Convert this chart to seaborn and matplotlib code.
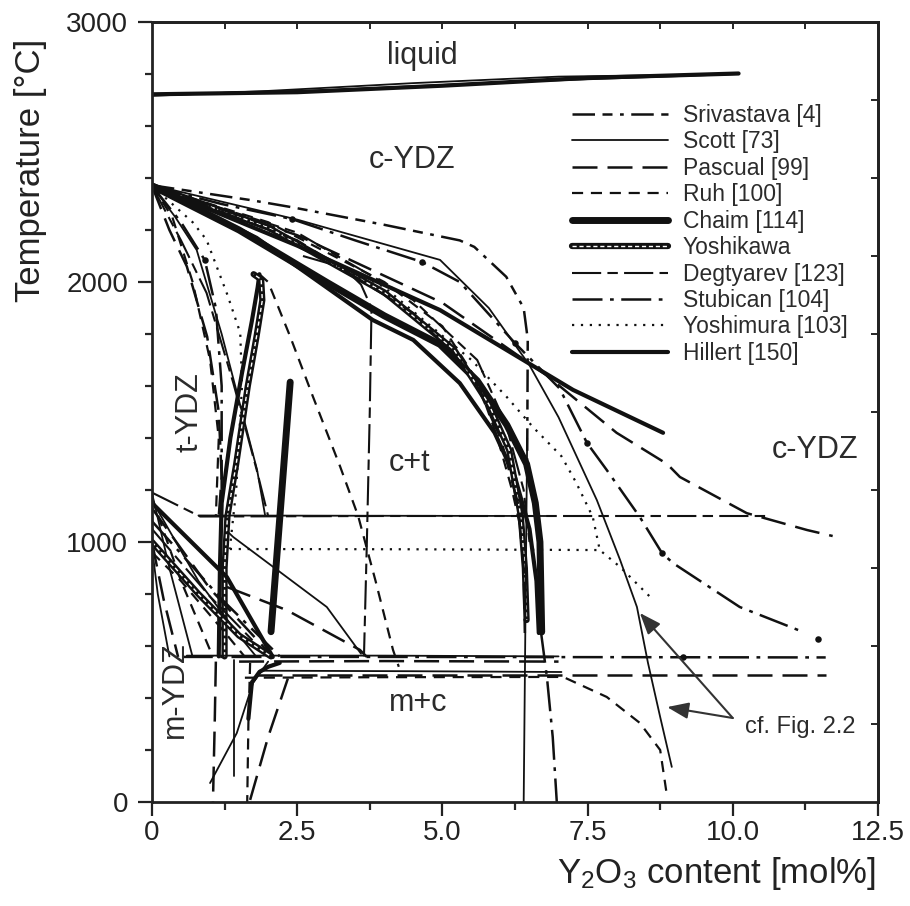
import matplotlib
matplotlib.use("Agg")
import matplotlib.pyplot as plt
from matplotlib.lines import Line2D
from matplotlib.legend_handler import HandlerTuple
import seaborn as sns

# ---- data (x = Y2O3 mol%, y = temperature degC) ----
# liquidus
liq_a_x = [0, 3.0, 6.0, 10.1]; liq_a_y = [2720, 2738, 2768, 2800]
liq_b_x = [0, 2.5, 5.0, 7.5, 10.1]; liq_b_y = [2722, 2730, 2755, 2785, 2802]
liq_c_x = [0, 2.0, 4.5, 7.0, 9.5]; liq_c_y = [2716, 2735, 2765, 2790, 2798]

# c / c+t boundaries (upper bundle)
bun_a_x = [0, 1.5, 3.0, 4.0, 4.96, 5.6, 6.11, 6.45, 6.6, 6.68, 6.71]
bun_a_y = [2370, 2200, 2000, 1870, 1760, 1620, 1450, 1300, 1150, 1000, 654]
bun_b_x = [0, 1.8, 3.8, 4.5, 5.3, 5.9, 6.25, 6.5, 6.62, 6.66]
bun_b_y = [2370, 2170, 1854, 1777, 1611, 1420, 1250, 1050, 850, 650]
bun_yos_x = [0, 2.0, 4.0, 5.2, 5.8, 6.15, 6.35, 6.42, 6.45]
bun_yos_y = [2370, 2210, 1960, 1740, 1530, 1354, 1100, 900, 700]
bun_ruh_x = [0, 2.0, 4.0, 5.0, 5.6, 5.95, 6.2, 6.35]
bun_ruh_y = [2370, 2230, 2000, 1830, 1620, 1400, 1200, 1050]
bun_pas_x = [0, 2.5, 4.5, 5.5, 6.0, 6.3, 6.4, 6.42]
bun_pas_y = [2370, 2160, 1880, 1650, 1400, 1150, 900, 650]
bun_deg_x = [0, 2.5, 4.5, 5.6, 6.1, 6.4, 6.5]
bun_deg_y = [2370, 2190, 1930, 1700, 1450, 1200, 1000]

sri_top_x = [0, 1.7, 2.4, 4.0, 5.3, 5.55, 6.1, 6.4, 6.47, 6.46]
sri_top_y = [2372, 2315, 2288, 2220, 2160, 2135, 2020, 1900, 1780, 1300]
sco_v64_x = [6.46, 6.43, 6.40]; sco_v64_y = [1400, 700, 0]
stu_top_x = [0, 1.2, 2.41, 3.5, 4.65, 5.3, 6.25, 7.02, 7.49, 7.83, 8.40, 8.78, 8.97, 10.12, 11.21]
stu_top_y = [2368, 2300, 2242, 2160, 2077, 2000, 1765, 1590, 1381, 1277, 1096, 958, 919, 750, 654]
pas_top_x = [0, 2.5, 5.0, 6.8, 8.0, 8.87, 9.09, 10.24, 11.28, 11.72]
pas_top_y = [2370, 2180, 1920, 1640, 1420, 1300, 1250, 1111, 1046, 1023]
hil_top_x = [0, 2.5, 4.96, 7.25, 8.8]; hil_top_y = [2370, 2140, 1892, 1585, 1420]
sco_top_x = [0, 2.5, 4.96, 5.8, 6.5, 7.0, 7.66, 8.06, 8.35, 8.54, 8.75, 8.95]
sco_top_y = [2373, 2240, 2085, 1900, 1680, 1480, 1161, 931, 750, 535, 327, 135]
ymu_top_x = [0, 2.0, 4.0, 5.5, 6.1, 6.56, 7.05, 7.3, 7.59, 7.71, 8.06, 8.63]
ymu_top_y = [2370, 2200, 1980, 1700, 1560, 1442, 1330, 1230, 1096, 969, 904, 777]
ymu_h_x = [1.34, 4.5, 7.71]; ymu_h_y = [973, 972, 969]
deg_v37_x = [2.6, 3.3, 3.6, 3.78, 3.75, 3.7, 3.65]
deg_v37_y = [2100, 2055, 1990, 1900, 1500, 1000, 560]

# t / t+c boundaries (left)
pas_lt_x = [0, 0.3, 0.6, 0.95, 1.15, 1.2, 1.15]; pas_lt_y = [2370, 2200, 2060, 1790, 1500, 1250, 1100]
sco_lt_x = [0, 0.4, 0.77, 1.2, 1.55, 1.81, 1.95]; sco_lt_y = [2370, 2250, 2123, 1800, 1500, 1277, 1100]
ruh_lt_x = [0, 0.35, 0.7, 1.0, 1.15, 1.1]; ruh_lt_y = [2370, 2250, 2000, 1700, 1400, 1100]
stu_lt_x = [0, 0.5, 0.91, 1.1, 1.2, 1.2]; stu_lt_y = [2370, 2230, 2084, 1900, 1600, 1200]
deg_lt_x = [0, 0.5, 0.94, 1.4, 1.8, 2.0]; deg_lt_y = [2370, 2160, 1958, 1612, 1280, 1100]
ymu_lt_x = [0, 0.7, 0.94, 1.3, 1.52, 1.55, 1.45, 1.34]
ymu_lt_y = [2370, 2230, 2162, 1950, 1804, 1600, 1200, 973]
thk_a_x = [1.15, 1.17, 1.2, 1.35, 1.55, 1.72, 1.82, 1.85]
thk_a_y = [560, 900, 1150, 1400, 1650, 1850, 1980, 2030]
thk_b_x = [1.25, 1.25, 1.3, 1.45, 1.65, 1.8, 1.9, 1.88, 1.75]
thk_b_y = [560, 900, 1100, 1300, 1600, 1790, 1930, 2010, 2030]
ruh_mid_x = [1.85, 2.0, 2.38, 2.77, 3.24, 3.55, 3.85, 4.15, 4.25]
ruh_mid_y = [2030, 2000, 1790, 1560, 1290, 1100, 850, 585, 520]
cha_mid_x = [2.05, 2.38]; cha_mid_y = [655, 1615]

# eutectoid horizontals
deg_h11_x = [0, 0.83, 4.0, 8.0, 10.6]; deg_h11_y = [1190, 1098, 1100, 1100, 1100]
sco_h11_x = [0.8, 3.5, 6.8]; sco_h11_y = [1102, 1101, 1100]
stu_h56_x = [0.53, 4.0, 8.0, 11.6]; stu_h56_y = [558, 558, 557, 556]
sco_h56_x = [0.6, 4.0, 7.0]; sco_h56_y = [563, 563, 560]
pas_h54_x = [1.5, 4.0, 7.0]; pas_h54_y = [540, 542, 540]
sco_h50_x = [1.85, 4.5, 7.05]; sco_h50_y = [505, 503, 500]
pas_h49_x = [1.8, 5.0, 8.0, 11.6]; pas_h49_y = [490, 490, 490, 490]
ruh_low_x = [1.6, 4.0, 7.08, 7.83, 8.40, 8.75, 8.87]
ruh_low_y = [478, 480, 481, 404, 304, 200, 19]

# low temperature verticals
pas_v11_x = [1.1, 1.08, 1.05]; pas_v11_y = [540, 300, 0]
sco_v14_x = [1.41, 1.41]; sco_v14_y = [545, 100]
ruh_v17_x = [1.69, 1.66, 1.64]; ruh_v17_y = [535, 300, 0]
hil_low_x = [1.66, 1.72, 1.85, 2.0, 2.2]; hil_low_y = [320, 460, 500, 520, 535]
sco_dg_x = [1.0, 1.46, 1.74, 2.0]; sco_dg_y = [73, 265, 458, 540]
pas_dg_x = [1.69, 2.0, 2.34]; pas_dg_y = [8, 250, 475]
stu_v70_x = [6.7, 6.8, 6.9, 6.97]; stu_v70_y = [650, 481, 250, 0]

# t / m boundaries (left fan)
fan1_x = [0, 0.3, 0.7]; fan1_y = [1188, 900, 558]
fan2_x = [0, 0.5, 1.05]; fan2_y = [1170, 850, 558]
fan3_x = [0, 0.8, 1.5, 1.8]; fan3_y = [1160, 850, 640, 558]
fan4_x = [0, 1.0, 2.08]; fan4_y = [1130, 820, 558]
fan5_x = [0, 1.29, 2.08]; fan5_y = [1150, 865, 558]
fan6_x = [0, 1.2, 2.2]; fan6_y = [1080, 780, 560]
fan7_x = [0, 1.0, 2.0]; fan7_y = [1050, 790, 560]
fan8_x = [0, 0.8, 1.5, 2.05]; fan8_y = [1000, 800, 640, 560]
fan9_x = [0, 0.5, 1.3, 1.6]; fan9_y = [960, 850, 640, 558]
fan10_x = [0, 0.1, 0.3]; fan10_y = [980, 800, 560]
fan11_x = [0, 0.2, 0.45]; fan11_y = [1000, 780, 558]
sco_mid_x = [1.3, 1.4, 3.01, 3.6]; sco_mid_y = [1040, 1019, 750, 570]
pas_mid_x = [1.29, 2.32, 3.58, 3.7]; pas_mid_y = [827, 738, 585, 558]

stu_dots_x = [0.91, 2.41, 4.65, 6.25, 7.49, 8.78, 9.14, 11.47]
stu_dots_y = [2084, 2242, 2077, 1765, 1381, 958, 558, 627]

legend_keys = ["sri", "sco", "pas", "ruh", "cha", "yos", "deg", "stu", "ymu", "hil"]
legend_labels = ["Srivastava [4]", "Scott [73]", "Pascual [99]", "Ruh [100]", "Chaim [114]",
                 "Yoshikawa", "Degtyarev [123]", "Stubican [104]", "Yoshimura [103]", "Hillert [150]"]

region_text = ["liquid", "c-YDZ", "c-YDZ", "c+t", "m+c"]
region_x = [4.65, 4.48, 11.42, 4.44, 4.58]
region_y = [2870, 2469, 1354, 1304, 381]
phase_text = ["t-YDZ", "m-YDZ"]
phase_x = [0.64, 0.40]
phase_y = [1500, 431]

STYLES = {
    "sri": dict(lw=1.8, ls=(0, (9, 3, 4, 3, 1.5, 3))),
    "sco": dict(lw=1.3, ls="-"),
    "pas": dict(lw=1.8, ls=(0, (10, 4))),
    "ruh": dict(lw=1.6, ls=(0, (5, 3.5))),
    "cha": dict(lw=5.0, ls="-"),
    "yos": dict(lw=4.5, ls="-"),
    "deg": dict(lw=1.5, ls=(0, (14, 3, 5, 3))),
    "stu": dict(lw=1.8, ls=(0, (12, 3, 1.5, 3))),
    "ymu": dict(lw=1.6, ls=(0, (1, 3))),
    "hil": dict(lw=3.0, ls="-"),
}

CURVES = [
    (liq_a_x, liq_a_y, "sco"), (liq_b_x, liq_b_y, "hil"), (liq_c_x, liq_c_y, "sco"),
    (bun_a_x, bun_a_y, "cha"), (bun_b_x, bun_b_y, "hil"), (bun_yos_x, bun_yos_y, "yos"),
    (bun_ruh_x, bun_ruh_y, "ruh"), (bun_pas_x, bun_pas_y, "pas"), (bun_deg_x, bun_deg_y, "deg"),
    (sri_top_x, sri_top_y, "sri"), (sco_v64_x, sco_v64_y, "sco"), (stu_top_x, stu_top_y, "stu"),
    (pas_top_x, pas_top_y, "pas"), (hil_top_x, hil_top_y, "hil"), (sco_top_x, sco_top_y, "sco"),
    (ymu_top_x, ymu_top_y, "ymu"), (ymu_h_x, ymu_h_y, "ymu"), (deg_v37_x, deg_v37_y, "deg"),
    (pas_lt_x, pas_lt_y, "pas"), (sco_lt_x, sco_lt_y, "sco"), (ruh_lt_x, ruh_lt_y, "ruh"),
    (stu_lt_x, stu_lt_y, "stu"), (deg_lt_x, deg_lt_y, "deg"), (ymu_lt_x, ymu_lt_y, "ymu"),
    (thk_a_x, thk_a_y, "hil"), (thk_b_x, thk_b_y, "yos"), (ruh_mid_x, ruh_mid_y, "ruh"),
    (cha_mid_x, cha_mid_y, "cha"),
    (deg_h11_x, deg_h11_y, "deg"), (sco_h11_x, sco_h11_y, "sco"), (stu_h56_x, stu_h56_y, "stu"),
    (sco_h56_x, sco_h56_y, "sco"), (pas_h54_x, pas_h54_y, "pas"), (sco_h50_x, sco_h50_y, "sco"),
    (pas_h49_x, pas_h49_y, "pas"), (ruh_low_x, ruh_low_y, "ruh"),
    (pas_v11_x, pas_v11_y, "pas"), (sco_v14_x, sco_v14_y, "sco"), (ruh_v17_x, ruh_v17_y, "ruh"),
    (hil_low_x, hil_low_y, "hil"), (sco_dg_x, sco_dg_y, "sco"), (pas_dg_x, pas_dg_y, "pas"),
    (stu_v70_x, stu_v70_y, "stu"),
    (fan1_x, fan1_y, "sco"), (fan2_x, fan2_y, "ruh"), (fan3_x, fan3_y, "sco"), (fan4_x, fan4_y, "pas"),
    (fan5_x, fan5_y, "hil"), (fan6_x, fan6_y, "stu"), (fan7_x, fan7_y, "deg"), (fan8_x, fan8_y, "yos"),
    (fan9_x, fan9_y, "ruh"), (fan10_x, fan10_y, "sco"), (fan11_x, fan11_y, "pas"),
    (sco_mid_x, sco_mid_y, "sco"), (pas_mid_x, pas_mid_y, "pas"),
]

INK = "#111111"
TXT = "#2b2b2b"


def draw(ax, x, y, key):
    st = STYLES[key]
    sns.lineplot(x=x, y=y, sort=False, estimator=None, ax=ax, color=INK,
                 linewidth=st["lw"], linestyle=st["ls"], legend=False)
    if key == "yos":
        # double line: white core inside the thick black stroke
        sns.lineplot(x=x, y=y, sort=False, estimator=None, ax=ax, color="white",
                     linewidth=1.0, linestyle=(0, (3, 2)), legend=False)


def handle(key):
    st = STYLES[key]
    h = Line2D([], [], color=INK, lw=st["lw"], ls=st["ls"])
    if key == "yos":
        return (h, Line2D([], [], color="white", lw=1.0, ls=(0, (3, 2))))
    return h


sns.set_style("ticks")
plt.rcParams["font.family"] = ["Liberation Sans", "DejaVu Sans"]
plt.rcParams["mathtext.fontset"] = "custom"
plt.rcParams["mathtext.rm"] = "Liberation Sans"
plt.rcParams["mathtext.default"] = "regular"

fig = plt.figure(figsize=(9.1, 9.06), dpi=100)
ax = fig.add_axes([0.167, 0.1148, 0.7978, 0.8609])

for cx, cy, key in CURVES:
    draw(ax, cx, cy, key)
sns.scatterplot(x=stu_dots_x, y=stu_dots_y, ax=ax, color=INK, s=22, linewidth=0, legend=False)

for t, x, y in zip(region_text, region_x, region_y):
    ax.text(x, y, t, fontsize=22, color=TXT, ha="center", va="center")
for t, x, y in zip(phase_text, phase_x, phase_y):
    ax.text(x, y, t, fontsize=22, color=TXT, ha="center", va="center", rotation=90)

ax.text(10.21, 288, "cf. Fig. 2.2", fontsize=17, color=TXT, ha="left", va="center")
arrow = dict(arrowstyle="-|>,head_length=0.65,head_width=0.25", color="#333333",
             lw=1.5, mutation_scale=20, shrinkA=0, shrinkB=0)
ax.annotate("", xy=(8.40, 727), xytext=(10.0, 323), arrowprops=arrow)
ax.annotate("", xy=(8.87, 365), xytext=(10.0, 323), arrowprops=arrow)

ax.legend([handle(k) for k in legend_keys], legend_labels,
          handler_map={tuple: HandlerTuple(ndivide=1)},
          loc="upper left", bbox_to_anchor=(0.578, 0.895), frameon=False,
          fontsize=16.5, handlelength=4.2, handletextpad=0.65, labelspacing=0.15,
          borderpad=0, borderaxespad=0, labelcolor=TXT)

ax.set_xlim(0, 12.5)
ax.set_ylim(0, 3000)
ax.set_xticks([0, 2.5, 5.0, 7.5, 10.0, 12.5])
ax.set_xticklabels(["0", "2.5", "5.0", "7.5", "10.0", "12.5"])
ax.set_xticks([1.25, 3.75, 6.25, 8.75, 11.25], minor=True)
ax.set_yticks([0, 1000, 2000, 3000])
ax.set_yticks([y for y in range(200, 3000, 200) if y % 1000], minor=True)
ax.tick_params(axis="both", which="major", direction="out", length=10, width=1.6,
               labelsize=20, colors="#222222", pad=3)
ax.tick_params(axis="x", which="minor", direction="out", length=6, width=1.6)
ax.tick_params(axis="y", which="minor", direction="out", length=5, width=1.6)
ax.tick_params(axis="y", which="major", pad=7)
for sp in ax.spines.values():
    sp.set_linewidth(2.0)
    sp.set_color("#222222")

top = ax.secondary_xaxis("top")
top.set_xticks([1.25 * i for i in range(1, 10)])
top.tick_params(direction="in", length=5, width=1.4, labeltop=False)
top.spines["top"].set_linewidth(2.0)
right = ax.secondary_yaxis("right")
right.set_yticks(list(range(300, 3000, 300)))
right.tick_params(direction="in", length=5, width=1.4, labelright=False)
right.spines["right"].set_linewidth(2.0)

ax.set_xlabel(r"Y$_2$O$_3$ content [mol%]", fontsize=25, color="#222222")
ax.xaxis.set_label_coords(0.778, -0.068)
ax.set_ylabel("Temperature [°C]", fontsize=25, color="#222222")
ax.yaxis.set_label_coords(-0.145, 0.81)

fig.savefig("out.png", dpi=100)
